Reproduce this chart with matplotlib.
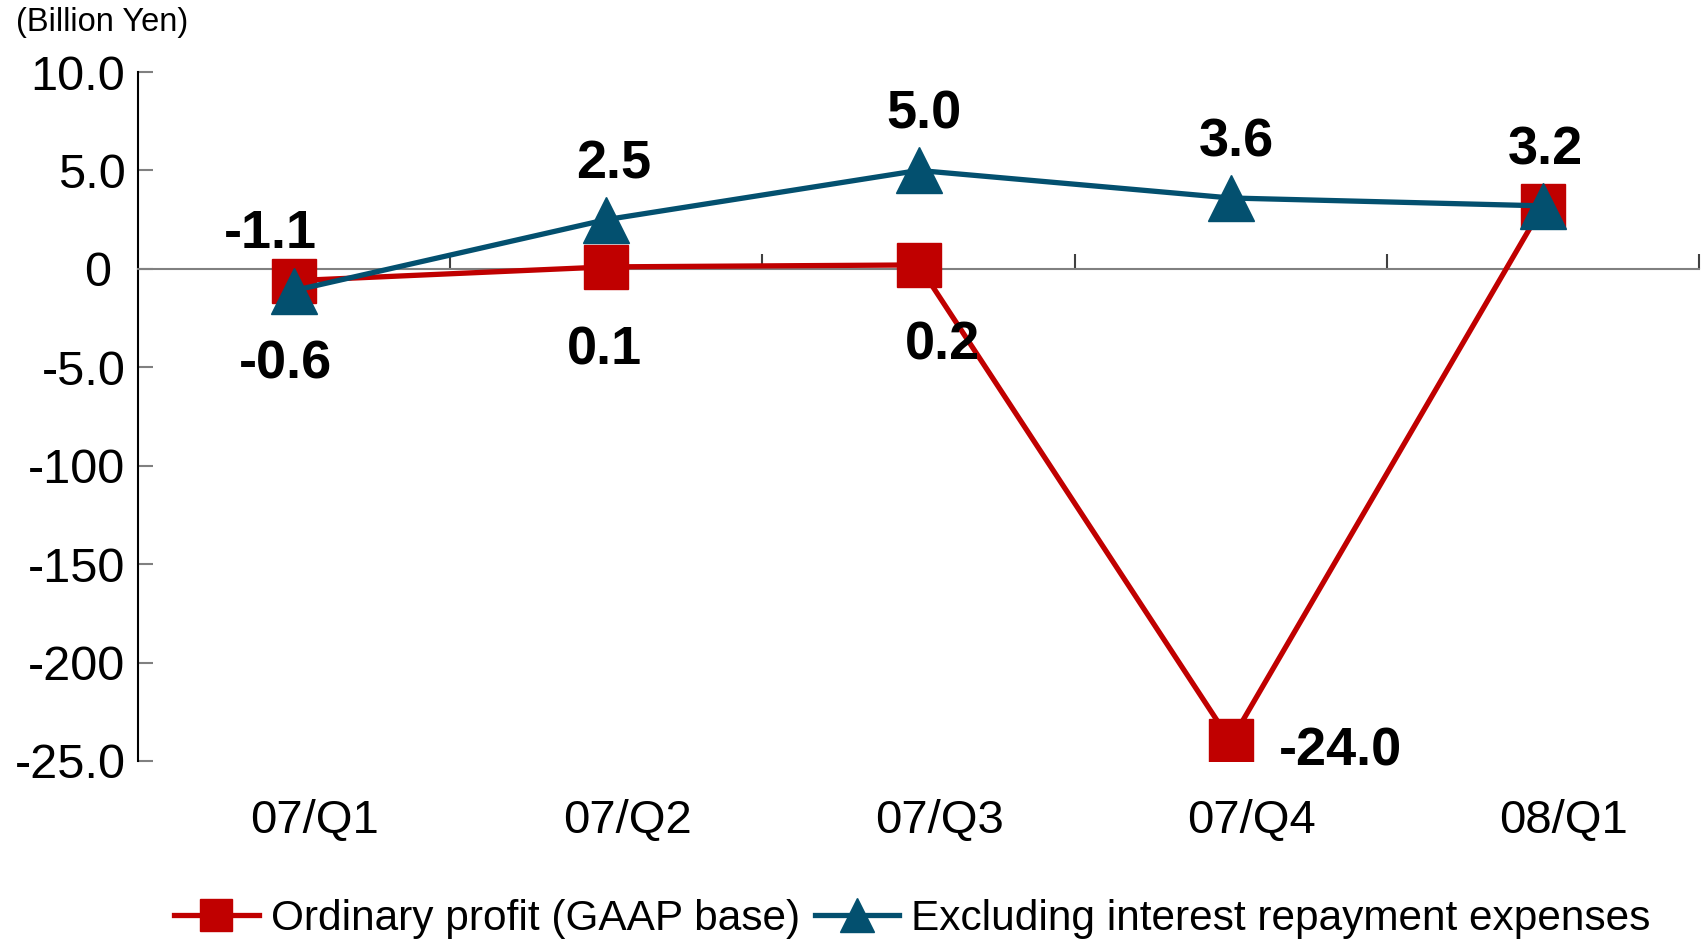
import matplotlib
matplotlib.use("Agg")
import matplotlib.pyplot as plt

plt.rcParams['font.family'] = ['Liberation Sans', 'DejaVu Sans']

quarters = ["07/Q1", "07/Q2", "07/Q3", "07/Q4", "08/Q1"]
ordinary_profit = [-0.6, 0.1, 0.2, -24.0, 3.2]
excl_interest = [-1.1, 2.5, 5.0, 3.6, 3.2]
ytick_vals = [10, 5, 0, -5, -10, -15, -20, -25]
ytick_text = ["10.0", "5.0", "0 ", "-5.0", "-100", "-150", "-200", "-25.0"]

RED = "#C00000"
BLUE = "#03506F"
GRAY = "#808080"

# label offsets (points) for each point's value text
red_offsets = [(-6, -60), (-1, -60), (17, -58), (79, -7), None]
blue_offsets = [(-17, 41), (5, 40), (4, 40), (4, 40), (2, 40)]

fig = plt.figure(figsize=(17.01, 9.46), dpi=100)
ax = fig.add_axes([138 / 1701, 1 - 761 / 946, (1699 - 138) / 1701, (761 - 72) / 946])

x = list(range(len(quarters)))
l1, = ax.plot(x, ordinary_profit, color=RED, lw=3.8, marker='s', ms=31,
              label="Ordinary profit (GAAP base)", zorder=3)
l2, = ax.plot(x, excl_interest, color=BLUE, lw=3.8, marker='^', ms=33,
              label="Excluding interest repayment expenses", zorder=4)

for xi, v, off in zip(x, ordinary_profit, red_offsets):
    if off is None:
        continue
    ax.annotate(f"{v:.1f}", (xi, v), xytext=off, textcoords='offset points',
                ha='center', va='center', fontsize=39, fontweight='bold')
for xi, v, off in zip(x, excl_interest, blue_offsets):
    ax.annotate(f"{v:.1f}", (xi, v), xytext=off, textcoords='offset points',
                ha='center', va='center', fontsize=39, fontweight='bold')

ax.set_xlim(-0.5, len(quarters) - 0.5)
ax.set_ylim(-25, 10)
ax.set_yticks(ytick_vals)
ax.set_yticklabels(ytick_text)
ax.tick_params(axis='y', direction='in', length=11, width=1.5, color=GRAY,
               labelsize=35, pad=9)
ax.set_xticks([i + 0.5 for i in x])
ax.set_xticklabels([])
ax.tick_params(axis='x', direction='in', length=11, width=1.5, color='#404040')

for s in ['top', 'right']:
    ax.spines[s].set_visible(False)
ax.spines['left'].set_linewidth(1.5)
ax.spines['bottom'].set_position(('data', 0))
ax.spines['bottom'].set_color(GRAY)
ax.spines['bottom'].set_linewidth(1.5)

# quarter names under the plot area
for xi, q in zip(x, quarters):
    ax.annotate(q, (xi, 0), xycoords=('data', 'axes fraction'), xytext=(15, -43),
                textcoords='offset points', ha='center', va='center', fontsize=34,
                annotation_clip=False)

fig.text(16 / 1701, 1 - 22 / 946, "(Billion Yen)", fontsize=23.5, va='center', ha='left')

fig.legend(handles=[l1, l2], loc='center left', bbox_to_anchor=(174 / 1701, 1 - 919 / 946),
           ncol=2, frameon=False, fontsize=30.5, handlelength=2.0, handletextpad=0.28,
           columnspacing=0.35, borderpad=0, borderaxespad=0, markerscale=0.75)

fig.savefig("out.png", dpi=100)
